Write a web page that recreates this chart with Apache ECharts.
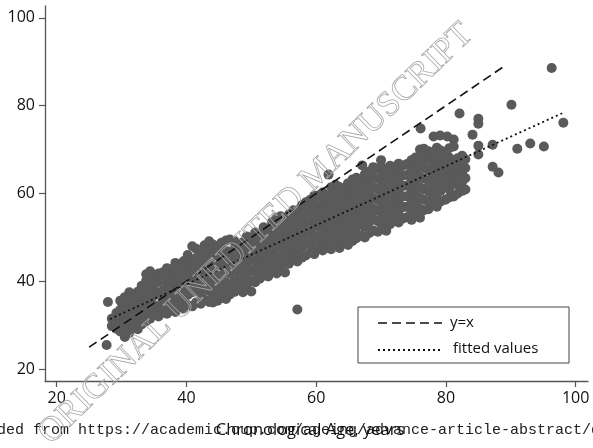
<!DOCTYPE html>
<html>
<head>
<meta charset="utf-8">
<script src="https://cdn.jsdelivr.net/npm/echarts@6/dist/echarts.min.js"></script>
<style>
html,body{margin:0;padding:0;background:#fff;}
#chart{width:593px;height:448px;}
</style>
</head>
<body>
<div id="chart"></div>
<script>
// Chronological age (x) vs biological age (y)
const agePoints = [
  [27.7,25.5],[27.9,35.3],
  [28.5,29.8],[28.5,31.5],
  [29.2,30.5],[29.2,32.8],[29.2,29.2],
  [29.8,28.6],[29.8,31.2],[29.8,33.5],[29.8,35.6],
  [30.5,27.3],[30.5,29.5],[30.5,32.0],[30.5,34.2],[30.5,36.4],
  [31.2,28.3],[31.2,30.8],[31.2,33.0],[31.2,35.1],[31.2,37.5],
  [31.8,29.6],[31.8,31.9],[31.8,34.0],[31.8,36.2],
  [32.5,29.1],[32.5,31.3],[32.5,33.4],[32.5,35.5],[32.5,37.6],
  [33.1,30.2],[33.1,32.5],[33.1,34.8],[33.1,36.9],[33.1,39.0],
  [33.8,30.9],[33.8,33.1],[33.8,35.4],[33.8,37.8],[33.8,40.2],[33.8,41.6],
  [34.4,31.5],[34.4,33.9],[34.4,36.3],[34.4,38.5],[34.4,42.3],
  [35.0,32.4],[35.0,34.6],[35.0,36.8],[35.0,39.2],[35.0,41.0],
  [35.7,32.0],[35.7,34.1],[35.7,37.4],[35.7,39.9],[35.7,41.8],
  [36.3,33.2],[36.3,35.5],[36.3,37.9],[36.3,40.5],[36.3,42.0],
  [37.0,32.6],[37.0,34.8],[37.0,36.9],[37.0,38.8],[37.0,41.4],[37.0,43.0],
  [37.6,33.5],[37.6,35.9],[37.6,38.3],[37.6,40.1],[37.6,42.7],
  [38.3,33.0],[38.3,35.2],[38.3,37.5],[38.3,39.6],[38.3,41.8],[38.3,44.2],
  [38.9,34.2],[38.9,36.4],[38.9,38.9],[38.9,41.1],[38.9,43.5],
  [39.6,33.8],[39.6,35.8],[39.6,38.0],[39.6,40.3],[39.6,42.6],[39.6,44.6],
  [40.2,34.6],[40.2,36.9],[40.2,39.2],[40.2,41.5],[40.2,43.9],[40.2,46.0],
  [40.9,34.3],[40.9,37.5],[40.9,39.9],[40.9,42.4],[40.9,44.8],[40.9,48.0],
  [41.5,35.2],[41.5,38.3],[41.5,40.6],[41.5,43.0],[41.5,45.3],[41.5,47.4],
  [42.2,34.9],[42.2,37.1],[42.2,39.4],[42.2,41.8],[42.2,44.1],[42.2,46.5],
  [42.8,35.8],[42.8,38.4],[42.8,40.9],[42.8,43.4],[42.8,45.7],[42.8,48.2],
  [43.5,35.3],[43.5,37.8],[43.5,40.2],[43.5,42.6],[43.5,44.9],[43.5,47.1],[43.5,49.1],
  [44.1,35.2],[44.1,36.6],[44.1,39.0],[44.1,41.4],[44.1,43.8],[44.1,46.2],[44.1,48.4],
  [44.8,35.6],[44.8,38.1],[44.8,40.5],[44.8,42.9],[44.8,45.4],[44.8,47.8],
  [45.4,36.2],[45.4,38.7],[45.4,41.2],[45.4,43.6],[45.4,46.0],[45.4,48.8],
  [46.1,36.0],[46.1,37.4],[46.1,39.8],[46.1,42.2],[46.1,44.6],[46.1,47.0],[46.1,49.3],
  [46.7,37.0],[46.7,39.3],[46.7,41.8],[46.7,44.2],[46.7,46.6],[46.7,49.5],
  [47.4,37.6],[47.4,40.1],[47.4,42.5],[47.4,45.0],[47.4,47.4],[47.4,49.2],
  [48.0,38.2],[48.0,40.6],[48.0,43.1],[48.0,45.5],[48.0,47.9],
  [48.7,37.5],[48.7,39.5],[48.7,41.9],[48.7,44.3],[48.7,46.8],[48.7,48.9],
  [49.3,38.6],[49.3,41.0],[49.3,43.4],[49.3,45.9],[49.3,48.3],[49.3,50.2],
  [50.0,37.7],[50.0,40.1],[50.0,42.6],[50.0,45.0],[50.0,47.4],[50.0,49.8],
  [50.6,39.8],[50.6,42.1],[50.6,44.5],[50.6,46.9],[50.6,49.2],[50.6,51.1],
  [51.3,40.6],[51.3,43.0],[51.3,45.4],[51.3,47.8],[51.3,50.2],
  [51.9,41.3],[51.9,43.7],[51.9,46.1],[51.9,48.5],[51.9,50.9],[51.9,52.3],
  [52.6,41.1],[52.6,42.5],[52.6,44.9],[52.6,47.3],[52.6,49.7],[52.6,52.0],
  [53.2,42.2],[53.2,44.4],[53.2,46.8],[53.2,49.2],[53.2,51.6],[53.2,53.5],
  [53.9,41.8],[53.9,43.5],[53.9,45.9],[53.9,48.3],[53.9,50.7],[53.9,53.0],[53.9,54.5],
  [54.5,43.0],[54.5,45.4],[54.5,47.8],[54.5,50.2],[54.5,52.6],[54.5,54.8],
  [55.2,42.0],[55.2,44.3],[55.2,46.7],[55.2,49.1],[55.2,51.5],[55.2,53.9],
  [55.8,44.0],[55.8,45.8],[55.8,48.2],[55.8,50.6],[55.8,53.0],[55.8,55.2],
  [56.5,45.0],[56.5,47.1],[56.5,49.5],[56.5,51.9],[56.5,54.3],[56.5,56.2],
  [57.1,33.6],[57.1,44.5],[57.1,46.5],[57.1,48.9],[57.1,51.3],[57.1,53.7],[57.1,56.1],
  [57.8,45.4],[57.8,47.8],[57.8,50.2],[57.8,52.6],[57.8,55.0],[57.8,57.3],
  [58.4,45.9],[58.4,48.5],[58.4,50.9],[58.4,53.3],[58.4,55.7],[58.4,58.0],
  [59.1,46.6],[59.1,49.0],[59.1,51.4],[59.1,53.8],[59.1,56.2],[59.1,58.6],
  [59.7,46.2],[59.7,48.0],[59.7,50.4],[59.7,52.8],[59.7,55.2],[59.7,57.6],[59.7,59.5],
  [60.4,47.5],[60.4,49.9],[60.4,52.3],[60.4,54.7],[60.4,57.1],[60.4,59.6],
  [61.0,47.0],[61.0,48.8],[61.0,51.2],[61.0,53.6],[61.0,56.0],[61.0,58.4],[61.0,60.2],
  [61.7,47.7],[61.7,50.0],[61.7,52.4],[61.7,54.8],[61.7,57.2],[61.7,59.5],
  [62.3,47.3],[62.3,49.4],[62.3,51.8],[62.3,54.2],[62.3,56.6],[62.3,59.0],[62.3,61.4],[61.9,64.3],
  [63.0,48.4],[63.0,50.8],[63.0,53.2],[63.0,55.6],[63.0,58.0],[63.0,60.4],[63.0,62.0],
  [63.6,47.6],[63.6,49.6],[63.6,52.0],[63.6,54.4],[63.6,56.8],[63.6,59.2],[63.6,61.5],
  [64.3,48.9],[64.3,51.3],[64.3,53.7],[64.3,56.1],[64.3,58.5],[64.3,60.9],
  [64.9,48.3],[64.9,50.3],[64.9,52.7],[64.9,55.1],[64.9,57.5],[64.9,59.9],[64.9,62.3],
  [65.6,49.2],[65.6,51.6],[65.6,54.0],[65.6,56.4],[65.6,58.8],[65.6,61.2],[65.6,63.2],
  [66.2,49.8],[66.2,52.3],[66.2,54.7],[66.2,57.1],[66.2,59.5],[66.2,61.9],[66.2,63.6],
  [66.9,50.5],[66.9,53.1],[66.9,55.5],[66.9,57.9],[66.9,60.3],[66.9,62.7],[67.1,66.4],
  [67.5,50.0],[67.5,52.4],[67.5,54.8],[67.5,57.2],[67.5,59.6],[67.5,62.0],[67.5,64.4],
  [68.2,51.0],[68.2,53.5],[68.2,55.9],[68.2,58.3],[68.2,60.7],[68.2,63.1],[68.2,65.0],
  [68.8,51.6],[68.8,54.2],[68.8,56.6],[68.8,59.0],[68.8,61.4],[68.8,63.8],[68.8,66.0],
  [69.5,51.3],[69.5,53.7],[69.5,56.1],[69.5,58.5],[69.5,60.9],[69.5,63.3],[69.5,65.7],[70.0,67.6],
  [70.1,52.0],[70.1,54.4],[70.1,56.8],[70.1,59.2],[70.1,61.6],[70.1,64.0],[70.1,66.0],
  [70.8,51.5],[70.8,53.3],[70.8,55.7],[70.8,58.1],[70.8,60.5],[70.8,62.9],[70.8,65.3],
  [71.4,53.0],[71.4,55.2],[71.4,57.6],[71.4,60.0],[71.4,62.4],[71.4,64.8],[71.4,66.3],
  [72.1,53.8],[72.1,56.3],[72.1,58.7],[72.1,61.1],[72.1,63.5],[72.1,65.9],
  [72.7,53.4],[72.7,55.4],[72.7,57.8],[72.7,60.2],[72.7,62.6],[72.7,65.0],[72.7,66.8],
  [73.4,54.3],[73.4,56.9],[73.4,59.3],[73.4,61.7],[73.4,64.1],[73.4,66.4],
  [74.0,54.6],[74.0,57.0],[74.0,59.4],[74.0,61.8],[74.0,64.2],[74.0,66.7],
  [74.7,54.0],[74.7,55.9],[74.7,58.3],[74.7,60.7],[74.7,63.1],[74.7,65.5],[74.7,67.6],
  [75.3,55.2],[75.3,57.6],[75.3,60.0],[75.3,62.4],[75.3,64.8],[75.3,67.2],[75.3,68.2],
  [76.0,54.5],[76.0,56.6],[76.0,59.0],[76.0,61.4],[76.0,63.8],[76.0,66.2],[76.0,68.6],[76.0,70.0],[76.1,74.8],
  [76.6,56.2],[76.6,58.6],[76.6,61.0],[76.6,63.4],[76.6,65.8],[76.6,68.0],[76.6,70.2],
  [77.3,56.4],[77.3,58.1],[77.3,60.5],[77.3,62.9],[77.3,65.3],[77.3,67.7],[77.3,69.6],
  [77.9,57.4],[77.9,59.8],[77.9,62.2],[77.9,64.6],[77.9,67.0],[77.9,69.4],[78.1,73.0],
  [78.6,57.0],[78.6,58.9],[78.6,61.3],[78.6,63.7],[78.6,66.1],[78.6,68.5],[78.6,70.4],[79.1,73.2],
  [79.2,58.2],[79.2,60.6],[79.2,63.0],[79.2,65.4],[79.2,67.8],[79.2,69.8],
  [79.9,58.6],[79.9,61.9],[79.9,64.3],[79.9,66.7],[79.9,69.1],[80.2,73.0],
  [80.5,59.1],[80.5,61.0],[80.5,63.4],[80.5,65.8],[80.5,68.2],[80.5,70.3],[81.2,72.3],
  [81.2,59.3],[81.2,62.4],[81.2,64.8],[81.2,67.2],[81.2,70.7],
  [81.8,60.0],[81.8,62.0],[81.8,64.0],[81.8,66.2],[81.8,68.0],
  [82.5,60.6],[82.5,62.7],[82.5,64.9],[82.5,67.1],[82.5,68.6],
  [83.0,60.9],[83.0,63.5],[83.0,65.8],[83.0,67.8],
  [82.1,78.2],[85.0,77.0],[85.0,75.9],[84.1,73.4],[85.0,70.9],[85.0,68.9],
  [87.2,71.1],[91.0,70.2],[93.0,71.4],[95.1,70.7],[87.2,66.1],[88.1,64.8],
  [90.1,80.2],[96.3,88.6],[98.1,76.1]
];
// reference line y = x
const identityLine = [[25.0, 25.0], [88.7, 88.7]];
// fitted regression line
const fittedLine = [[28.2, 31.4], [98.1, 78.4]];
const xTicks = [20, 40, 60, 80, 100];
const yTicks = [20, 40, 60, 80, 100];
const legendNames = ['y=x', 'fitted values'];
const xTitle = 'Chronological Age, years';
const watermark = 'ORIGINAL UNEDITED MANUSCRIPT';
const footerText = 'Downloaded from https://academic.oup.com/ageing/advance-article-abstract/doi/10.1093/';

const chart = echarts.init(document.getElementById('chart'), null, {renderer: 'canvas'});
const axisColor = '#555';
const labelFont = 'Open Sans';

chart.setOption({
  animation: false,
  backgroundColor: '#fff',
  grid: {left: 45, right: 5, top: 6, bottom: 67, containLabel: false},
  xAxis: {
    type: 'value', min: 18.2, max: 101.9,
    axisLine: {show: true, onZero: false, lineStyle: {color: axisColor, width: 1.3}},
    axisTick: {show: true, customValues: xTicks, length: 6, lineStyle: {color: axisColor, width: 1.2}},
    axisLabel: {show: true, customValues: xTicks, margin: 9, color: '#111', fontSize: 16, fontFamily: labelFont},
    splitLine: {show: false}
  },
  yAxis: {
    type: 'value', min: 17.3, max: 102.7,
    axisLine: {show: true, onZero: false, lineStyle: {color: axisColor, width: 1.3}},
    axisTick: {show: true, customValues: yTicks, length: 6, lineStyle: {color: axisColor, width: 1.2}},
    axisLabel: {show: true, customValues: yTicks, margin: 10, color: '#111', fontSize: 16, fontFamily: labelFont},
    splitLine: {show: false}
  },
  series: [
    {
      type: 'scatter', data: agePoints, symbol: 'circle', symbolSize: 10,
      itemStyle: {color: '#5a5a5a', opacity: 1}, z: 2
    },
    {
      name: legendNames[0], type: 'line', data: identityLine, symbol: 'none', z: 3,
      lineStyle: {color: '#111', width: 1.6, type: [9, 5]}
    },
    {
      name: legendNames[1], type: 'line', data: fittedLine, symbol: 'none', z: 3,
      lineStyle: {color: '#111', width: 1.8, type: [2, 3]}
    }
  ],
  graphic: [
    {type: 'rect', z: 10, shape: {x: 358, y: 307, width: 211, height: 56},
     style: {fill: '#fff', stroke: '#444', lineWidth: 1}},
    {type: 'line', z: 11, shape: {x1: 378, y1: 323, x2: 442, y2: 323},
     style: {stroke: '#111', lineWidth: 1.6, lineDash: [9, 5]}},
    {type: 'line', z: 11, shape: {x1: 378, y1: 350, x2: 442, y2: 350},
     style: {stroke: '#111', lineWidth: 1.8, lineDash: [2, 3]}},
    {type: 'text', z: 11, x: 450, y: 323,
     style: {text: legendNames[0], font: '15px "Open Sans"', fill: '#111', align: 'left', verticalAlign: 'middle'}},
    {type: 'text', z: 11, x: 453, y: 349,
     style: {text: legendNames[1], font: '15px "Open Sans"', fill: '#111', align: 'left', verticalAlign: 'middle'}},
    {type: 'text', z: 12, x: -66, y: 430,
     style: {text: footerText, font: '15px "Liberation Mono"', fill: '#222', align: 'left', verticalAlign: 'middle'}},
    {type: 'text', z: 13, x: 310, y: 430,
     style: {text: xTitle, font: '16.5px "Open Sans"', fill: '#111', align: 'center', verticalAlign: 'middle'}},
    {type: 'text', z: 20, x: 256, y: 234, rotation: 44 * Math.PI / 180,
     style: {text: watermark, font: '35px "Liberation Serif"', fill: 'none', stroke: '#a6a6a6', lineWidth: 0.8,
             align: 'center', verticalAlign: 'middle'}}
  ]
});
</script>
</body>
</html>
